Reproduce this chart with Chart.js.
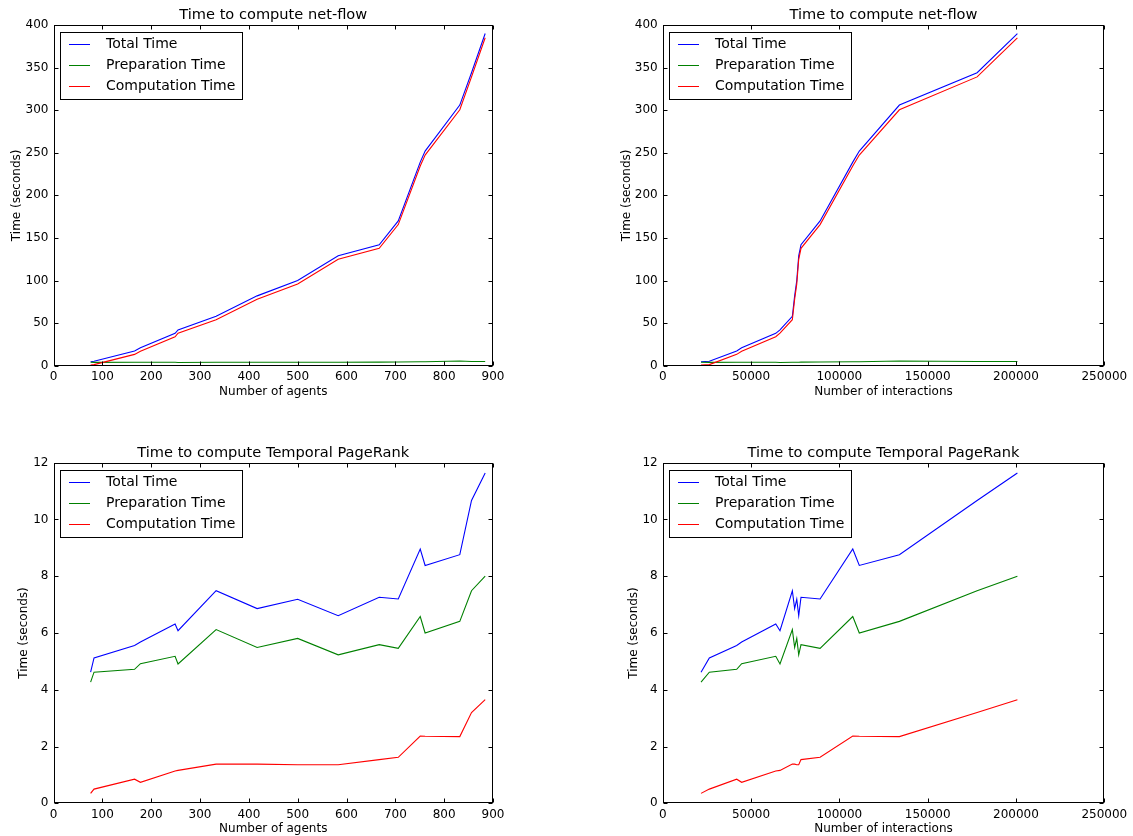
<!DOCTYPE html>
<html>
<head>
<meta charset="utf-8">
<title>Time to compute net-flow and Temporal PageRank</title>
<script src="https://cdn.jsdelivr.net/npm/chart.js@4.4.0/dist/chart.umd.min.js"></script>
<style>
  html, body { margin: 0; padding: 0; background: #fff; }
  #wrap { position: relative; width: 1133px; height: 836px; overflow: hidden; }
  canvas { position: absolute; }
</style>
</head>
<body>
<div id="wrap">
  <canvas id="tl" width="566" height="418" style="left:0;top:0"></canvas>
  <canvas id="tr" width="567" height="418" style="left:566px;top:0"></canvas>
  <canvas id="bl" width="566" height="418" style="left:0;top:418px"></canvas>
  <canvas id="br" width="567" height="418" style="left:566px;top:418px"></canvas>
</div>
<script>
// x values (same runs, two ways of counting size)
const agents = [76, 83, 166, 178, 249, 255, 333, 417, 500, 583, 667, 706, 751, 761, 832, 856, 884];
const interactions = [21700, 26400, 41900, 44700, 64000, 66400, 73400, 74700, 75900, 77000, 78300, 89100, 107600, 111300, 134000, 178000, 200800];

// net-flow timings (seconds)
const netTotal = [4.7, 5.2, 17.3, 21, 38, 42, 58, 82, 100, 129, 142, 170, 239, 252, 306, 344, 390];
const netPrep = [4.0, 3.9, 4.0, 4.0, 4.0, 3.8, 4.0, 4.0, 4.1, 4.1, 4.2, 4.3, 4.6, 4.7, 5.5, 4.9, 5.0];
const netComp = [0.7, 1.3, 13.3, 17, 34, 38.2, 54, 78, 95.9, 124.9, 137.8, 165.7, 234.4, 247.3, 300.5, 339.1, 385];

// Temporal PageRank timings (seconds)
const prTotal = [4.62, 5.12, 5.56, 5.68, 6.32, 6.08, 7.49, 6.86, 7.19, 6.61, 7.26, 7.20, 8.96, 8.38, 8.76, 10.67, 11.64];
const prPrep = [4.27, 4.62, 4.72, 4.92, 5.18, 4.91, 6.12, 5.49, 5.81, 5.23, 5.59, 5.46, 6.58, 6.00, 6.41, 7.49, 8.00];
const prComp = [0.35, 0.50, 0.85, 0.74, 1.14, 1.16, 1.38, 1.38, 1.36, 1.36, 1.54, 1.62, 2.37, 2.36, 2.35, 3.20, 3.65];

// tick labels
const agentTicks = [0, 100, 200, 300, 400, 500, 600, 700, 800, 900];
const interactionTicks = [0, 50000, 100000, 150000, 200000, 250000];
const netTicks = [0, 50, 100, 150, 200, 250, 300, 350, 400];
const prTicks = [0, 2, 4, 6, 8, 10, 12];

const FONT = '"DejaVu Sans", "Liberation Sans", sans-serif';
Chart.defaults.font.family = FONT;
Chart.defaults.color = '#000';

// matplotlib-like frame with inward ticks on all four sides
const framePlugin = {
    id: 'frame',
    afterDatasetsDraw(chart) {
        const { ctx, chartArea: a, scales: { x, y } } = chart;
        const L = Math.round(a.left) + 0.5, R = Math.round(a.right) - 0.5;
        const T = Math.round(a.top) + 0.5, B = Math.round(a.bottom) - 0.5;
        ctx.save();
        ctx.strokeStyle = '#000';
        ctx.lineWidth = 1;
        ctx.beginPath();
        x.ticks.forEach(t => {
            const px = Math.round(x.getPixelForValue(t.value)) + 0.5;
            ctx.moveTo(px, B); ctx.lineTo(px, B - 4);
            ctx.moveTo(px, T); ctx.lineTo(px, T + 4);
        });
        y.ticks.forEach(t => {
            const py = Math.round(y.getPixelForValue(t.value)) + 0.5;
            ctx.moveTo(L, py); ctx.lineTo(L + 4, py);
            ctx.moveTo(R, py); ctx.lineTo(R - 4, py);
        });
        ctx.stroke();
        ctx.strokeRect(L, T, R - L, B - T);
        ctx.restore();
    }
};

// boxed legend in the upper left corner of the plot
const boxLegend = {
    id: 'boxLegend',
    afterDraw(chart) {
        const { ctx, chartArea: a } = chart;
        const sets = chart.data.datasets;
        ctx.save();
        ctx.font = '14px ' + FONT;
        const textW = Math.max(...sets.map(d => ctx.measureText(d.label).width));
        const bx = Math.round(a.left + 6.5), by = Math.round(a.top + 7.3);
        const bw = Math.round(46 + textW + 7), bh = 67;
        ctx.fillStyle = '#fff';
        ctx.fillRect(bx, by, bw, bh);
        ctx.strokeStyle = '#000';
        ctx.lineWidth = 1;
        ctx.strokeRect(bx + 0.5, by + 0.5, bw, bh);
        sets.forEach((d, i) => {
            const cy = by + 11.5 + i * 21.2;
            ctx.strokeStyle = d.borderColor;
            ctx.beginPath();
            ctx.moveTo(bx + 9, Math.round(cy) + 0.5);
            ctx.lineTo(bx + 30, Math.round(cy) + 0.5);
            ctx.stroke();
            ctx.fillStyle = '#000';
            ctx.textBaseline = 'middle';
            ctx.fillText(d.label, bx + 46, cy + 0.5);
        });
        ctx.restore();
    }
};

function pts(xs, ys) {
    return xs.map((v, i) => ({ x: v, y: ys[i] }));
}

function makeChart(id, c) {
    return new Chart(document.getElementById(id), {
        type: 'line',
        data: {
            datasets: [
                { label: 'Total Time', data: pts(c.xs, c.total), borderColor: '#0000ff', order: 3 },
                { label: 'Preparation Time', data: pts(c.xs, c.prep), borderColor: '#008000', order: 2 },
                { label: 'Computation Time', data: pts(c.xs, c.comp), borderColor: '#ff0000', order: 1 }
            ]
        },
        options: {
            responsive: false,
            animation: false,
            layout: { padding: { left: 0, top: 0, right: c.padRight, bottom: c.padBottom } },
            elements: {
                line: { borderWidth: 1.1, tension: 0, fill: false },
                point: { radius: 0 }
            },
            plugins: {
                legend: { display: false },
                tooltip: { enabled: false },
                title: {
                    display: true,
                    text: c.title,
                    fullSize: false,
                    font: { size: 14.6, weight: 'normal' },
                    padding: { top: c.titleTop, bottom: 1.2 }
                }
            },
            scales: {
                x: {
                    type: 'linear',
                    min: c.xTicks[0],
                    max: c.xTicks[c.xTicks.length - 1],
                    afterBuildTicks: s => { s.ticks = c.xTicks.map(v => ({ value: v })); },
                    afterFit: s => { s.height = c.xHeight; },
                    grid: { display: false, drawTicks: false },
                    border: { display: false },
                    ticks: { padding: 4, maxRotation: 0, autoSkip: false, font: { size: 12 }, callback: v => String(v) },
                    title: { display: true, text: c.xLabel, font: { size: 12 }, padding: { top: 0, bottom: c.xTitleBottom } }
                },
                y: {
                    type: 'linear',
                    min: c.yTicks[0],
                    max: c.yTicks[c.yTicks.length - 1],
                    afterBuildTicks: s => { s.ticks = c.yTicks.map(v => ({ value: v })); },
                    afterFit: s => { s.width = c.yWidth; },
                    grid: { display: false, drawTicks: false },
                    border: { display: false },
                    ticks: { padding: 5, font: { size: 12 }, callback: v => String(v) },
                    title: { display: true, text: 'Time (seconds)', font: { size: 12 }, padding: { top: c.yTitleX - 7.2, bottom: 0 } }
                }
            }
        },
        plugins: [framePlugin, boxLegend]
    });
}

const topRow = { titleTop: 6.3, xHeight: 40, xTitleBottom: 6.5, padBottom: 12.3 };
const bottomRow = { titleTop: 26.0, xHeight: 32.7, xTitleBottom: 0, padBottom: 0 };

makeChart('tl', Object.assign({
    title: 'Time to compute net-flow', xs: agents, total: netTotal, prep: netPrep, comp: netComp,
    xTicks: agentTicks, yTicks: netTicks, xLabel: 'Number of agents',
    yWidth: 53.5, yTitleX: 17, padRight: 73
}, topRow));

makeChart('tr', Object.assign({
    title: 'Time to compute net-flow', xs: interactions, total: netTotal, prep: netPrep, comp: netComp,
    xTicks: interactionTicks, yTicks: netTicks, xLabel: 'Number of interactions',
    yWidth: 96.7, yTitleX: 61, padRight: 28.7
}, topRow));

makeChart('bl', Object.assign({
    title: 'Time to compute Temporal PageRank', xs: agents, total: prTotal, prep: prPrep, comp: prComp,
    xTicks: agentTicks, yTicks: prTicks, xLabel: 'Number of agents',
    yWidth: 53.5, yTitleX: 24, padRight: 73
}, bottomRow));

makeChart('br', Object.assign({
    title: 'Time to compute Temporal PageRank', xs: interactions, total: prTotal, prep: prPrep, comp: prComp,
    xTicks: interactionTicks, yTicks: prTicks, xLabel: 'Number of interactions',
    yWidth: 96.7, yTitleX: 68, padRight: 28.7
}, bottomRow));
</script>
</body>
</html>
